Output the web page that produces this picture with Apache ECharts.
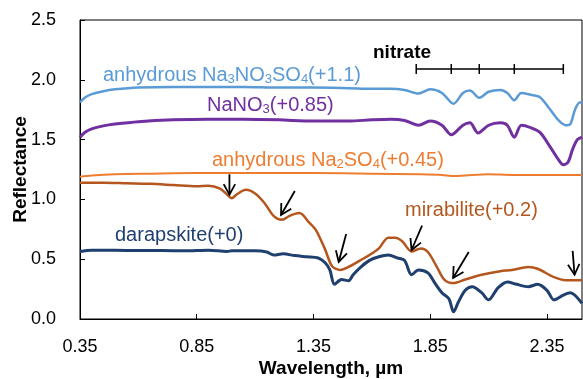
<!DOCTYPE html>
<html>
<head>
<meta charset="utf-8">
<script src="https://cdn.jsdelivr.net/npm/echarts@6/dist/echarts.min.js"></script>
<style>
	html, body { margin: 0; padding: 0; background: #fff; }
	#spectra { width: 583px; height: 379px; }
</style>
</head>
<body>
<div id="spectra"></div>
<script>
// Spectra, already shifted by the offsets shown in the labels
var sulfNitrateWl = [0.35,0.37,0.40,0.45,0.50,0.60,0.75,0.90,1.05,1.20,1.35,1.50,1.60,1.68,1.74,1.80,1.85,1.90,1.95,1.99,2.02,2.06,2.10,2.15,2.18,2.21,2.24,2.28,2.32,2.36,2.40,2.43,2.45,2.47,2.49,2.5];
var sulfNitrateR  = [1.81,1.85,1.88,1.905,1.92,1.935,1.94,1.94,1.94,1.935,1.935,1.93,1.925,1.925,1.915,1.885,1.92,1.89,1.80,1.89,1.91,1.85,1.90,1.915,1.89,1.83,1.89,1.875,1.855,1.76,1.66,1.62,1.63,1.75,1.81,1.81];

var nano3Wl = [0.35,0.37,0.40,0.45,0.50,0.60,0.75,0.90,1.05,1.20,1.35,1.50,1.60,1.68,1.74,1.80,1.85,1.90,1.94,1.99,2.02,2.055,2.10,2.15,2.18,2.21,2.24,2.28,2.32,2.36,2.40,2.42,2.44,2.46,2.48,2.5];
var nano3R  = [1.52,1.56,1.59,1.615,1.63,1.65,1.665,1.67,1.67,1.665,1.655,1.655,1.665,1.67,1.66,1.62,1.655,1.62,1.54,1.62,1.64,1.555,1.62,1.64,1.62,1.52,1.62,1.60,1.56,1.45,1.33,1.29,1.31,1.42,1.50,1.52];

var na2so4Wl = [0.35,0.40,0.50,0.65,0.85,1.10,1.35,1.60,1.80,1.90,1.95,2.00,2.10,2.20,2.35,2.5];
var na2so4R  = [1.19,1.20,1.21,1.215,1.22,1.22,1.22,1.215,1.21,1.205,1.195,1.20,1.21,1.205,1.205,1.205];

var mirabiliteWl = [0.35,0.45,0.55,0.65,0.75,0.85,0.90,0.95,0.98,1.00,1.02,1.06,1.10,1.14,1.18,1.215,1.25,1.29,1.33,1.36,1.40,1.43,1.465,1.50,1.55,1.59,1.63,1.67,1.70,1.73,1.77,1.81,1.84,1.88,1.91,1.95,2.00,2.07,2.15,2.20,2.27,2.31,2.38,2.43,2.5];
var mirabiliteR  = [1.14,1.14,1.135,1.13,1.12,1.11,1.115,1.09,1.04,1.01,1.04,1.08,1.05,0.97,0.86,0.83,0.865,0.886,0.81,0.745,0.58,0.44,0.41,0.435,0.49,0.535,0.59,0.68,0.68,0.65,0.565,0.59,0.56,0.43,0.33,0.30,0.33,0.37,0.40,0.41,0.435,0.42,0.35,0.325,0.325];

var darapskiteWl = [0.35,0.40,0.50,0.60,0.70,0.80,0.90,0.98,1.00,1.10,1.15,1.18,1.22,1.27,1.32,1.37,1.40,1.42,1.44,1.47,1.50,1.52,1.55,1.59,1.63,1.67,1.71,1.74,1.77,1.80,1.84,1.87,1.90,1.93,1.95,1.97,2.00,2.03,2.07,2.10,2.14,2.18,2.22,2.27,2.31,2.35,2.38,2.42,2.45,2.5];
var darapskiteR  = [0.565,0.575,0.575,0.572,0.572,0.57,0.575,0.565,0.57,0.57,0.56,0.535,0.545,0.53,0.52,0.51,0.47,0.41,0.29,0.33,0.32,0.37,0.43,0.49,0.52,0.535,0.51,0.49,0.37,0.41,0.385,0.30,0.22,0.17,0.06,0.14,0.24,0.27,0.22,0.16,0.26,0.31,0.29,0.27,0.29,0.24,0.16,0.20,0.22,0.13];

// nitrate band positions (bar at top right)
var nitrateBands = [1.79, 1.94, 2.06, 2.21, 2.42];
var nitrateLevel = 2.09;

// arrows on mirabilite features: tail -> tip
var arrowTailX = [0.99, 1.27, 1.49, 1.815, 2.015, 2.46];
var arrowTailY = [1.21, 1.07, 0.71, 0.78, 0.56, 0.57];
var arrowTipX  = [0.99, 1.211, 1.458, 1.77, 1.948, 2.468];
var arrowTipY  = [1.04, 0.87, 0.477, 0.577, 0.343, 0.37];

var xTicks = [0.35, 0.85, 1.35, 1.85, 2.35];

init();

function init() {
	var font = '"Liberation Sans", Arial, sans-serif';
	var chart = echarts.init(document.getElementById('spectra'), null, { renderer: 'canvas' });

	function pairs(xs, ys) {
		var out = [];
		for (var i = 0; i < xs.length; i++) {
			out.push([xs[i], ys[i]]);
		}
		return out;
	}

	function spectrum(name, xs, ys, color, width) {
		return {
			name: name,
			type: 'line',
			data: pairs(xs, ys),
			symbol: 'none',
			smooth: 0.3,
			lineStyle: { color: color, width: width },
			z: 3
		};
	}

	var arrowData = [];
	for (var i = 0; i < arrowTailX.length; i++) {
		arrowData.push([arrowTailX[i], arrowTailY[i], arrowTipX[i], arrowTipY[i]]);
	}

	var nitrateData = nitrateBands.map(function (b) { return [b, nitrateLevel]; });

	// label helper: rich text with subscripts
	function label(left, top, color, text) {
		return {
			type: 'text',
			left: left,
			top: top,
			z: 10,
			style: {
				text: text,
				fill: color,
				font: '20px ' + font,
				rich: {
					n: { fontSize: 20, fontFamily: font, fill: color, lineHeight: 22 },
					s: { fontSize: 13, fontFamily: font, fill: color, lineHeight: 6, verticalAlign: 'bottom' }
				}
			}
		};
	}

	var option = {
		animation: false,
		grid: {
			left: 80, top: 20, right: 1, bottom: 60,
			outerBoundsMode: 'none',
			show: true, borderColor: '#000', borderWidth: 1
		},
		xAxis: {
			type: 'value',
			min: 0.35,
			max: 2.5,
			name: 'Wavelength, µm',
			nameLocation: 'middle',
			nameGap: 40,
			nameMoveOverlap: false,
			nameTextStyle: { fontSize: 19, fontWeight: 'bold', color: '#000', fontFamily: font },
			axisLine: { lineStyle: { color: '#000', width: 1 } },
			axisTick: { inside: true, length: 5, lineStyle: { color: '#000' }, customValues: xTicks },
			axisLabel: {
				customValues: xTicks, margin: 19, fontSize: 18, color: '#000', fontFamily: font,
				formatter: function (v) { return v.toFixed(2); }
			},
			splitLine: { show: false }
		},
		yAxis: {
			type: 'value',
			min: 0,
			max: 2.5,
			interval: 0.5,
			name: 'Reflectance',
			nameLocation: 'middle',
			nameGap: 50,
			nameMoveOverlap: false,
			nameTextStyle: { fontSize: 19, fontWeight: 'bold', color: '#000', fontFamily: font },
			axisLine: { show: true, lineStyle: { color: '#000', width: 1 } },
			axisTick: { show: true, inside: true, length: 5, lineStyle: { color: '#000' } },
			axisLabel: {
				margin: 24, fontSize: 18, color: '#000', fontFamily: font,
				formatter: function (v) { return v.toFixed(1); }
			},
			splitLine: { show: false }
		},
		series: [
			spectrum('anhydrous Na3NO3SO4', sulfNitrateWl, sulfNitrateR, '#5B9BD5', 2.5),
			spectrum('NaNO3', nano3Wl, nano3R, '#7030A0', 3),
			spectrum('anhydrous Na2SO4', na2so4Wl, na2so4R, '#ED7D31', 2),
			spectrum('mirabilite', mirabiliteWl, mirabiliteR, '#B4561E', 2.5),
			spectrum('darapskite', darapskiteWl, darapskiteR, '#1F3F6F', 3),
			{
				name: 'nitrate',
				type: 'line',
				data: nitrateData,
				symbol: 'rect',
				symbolSize: [1.5, 10],
				itemStyle: { color: '#000' },
				lineStyle: { color: '#000', width: 1.5 },
				z: 4
			},
			{
				name: 'arrows',
				type: 'custom',
				data: arrowData,
				encode: { x: [0, 2], y: [1, 3] },
				z: 5,
				renderItem: function (params, api) {
					var a = api.coord([api.value(0), api.value(1)]);
					var b = api.coord([api.value(2), api.value(3)]);
					var ang = Math.atan2(a[1] - b[1], a[0] - b[0]);
					var len = 12, spread = 0.5;
					var w1 = [b[0] + len * Math.cos(ang + spread), b[1] + len * Math.sin(ang + spread)];
					var w2 = [b[0] + len * Math.cos(ang - spread), b[1] + len * Math.sin(ang - spread)];
					var st = { stroke: '#000', lineWidth: 1.8, fill: null };
					return {
						type: 'group',
						children: [
							{ type: 'polyline', shape: { points: [a, b] }, style: st },
							{ type: 'polyline', shape: { points: [w1, b, w2] }, style: st }
						]
					};
				}
			}
		],
		graphic: [
			label(103, 65, '#5B9BD5', '{n|anhydrous Na}{s|3}{n|NO}{s|3}{n|SO}{s|4}{n|(+1.1)}'),
			label(207, 95, '#7030A0', '{n|NaNO}{s|3}{n|(+0.85)}'),
			label(212, 150, '#ED7D31', '{n|anhydrous Na}{s|2}{n|SO}{s|4}{n|(+0.45)}'),
			label(405, 200, '#B4561E', '{n|mirabilite(+0.2)}'),
			label(115, 225, '#1F3F6F', '{n|darapskite(+0)}'),
			{
				type: 'text',
				left: 373,
				top: 43,
				z: 10,
				style: { text: 'nitrate', fill: '#000', font: 'bold 19px ' + font }
			}
		]
	};

	chart.setOption(option);
}
</script>
</body>
</html>
